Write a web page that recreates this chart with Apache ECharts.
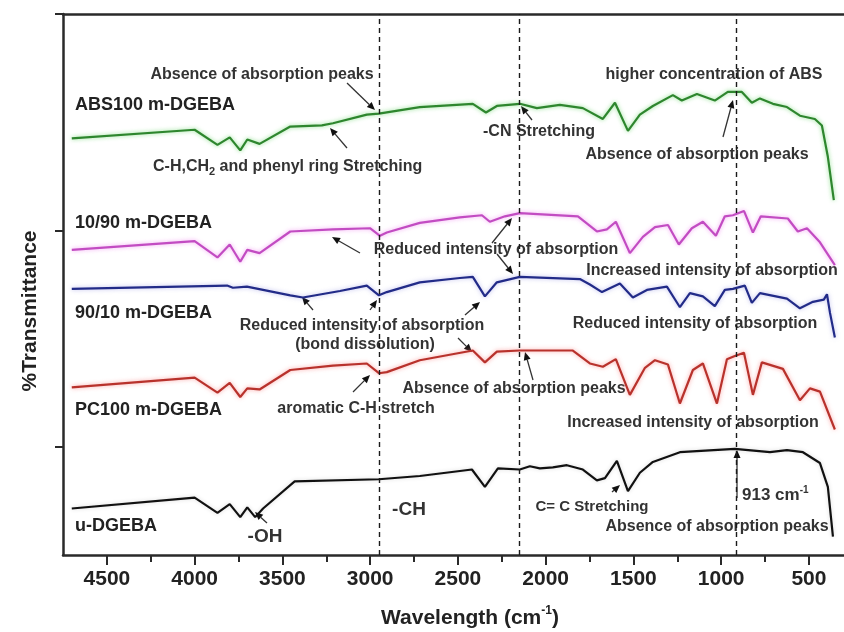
<!DOCTYPE html>
<html>
<head>
<meta charset="utf-8">
<script src="https://cdn.jsdelivr.net/npm/echarts@6/dist/echarts.min.js"></script>
<style>
html, body { margin: 0; padding: 0; background: #fff; }
#main { width: 844px; height: 632px; }
</style>
</head>
<body>
<div id="main"></div>
<script>
// wavenumber (cm-1) / transmittance (offset, arbitrary units)
var absW = [4700, 4000, 3870, 3800, 3740, 3700, 3630, 3455, 3275, 3212, 3019, 2950, 2717, 2415, 2340, 2278, 2147, 2050, 1919, 1788, 1674, 1605, 1531, 1463, 1389, 1275, 1224, 1138, 1036, 962, 882, 825, 779, 705, 625, 551, 466, 426, 392, 358];
var absT = [38.5, 39.3, 37.9, 38.6, 37.4, 38.4, 38.0, 39.6, 39.7, 39.9, 40.7, 40.8, 41.4, 41.7, 40.9, 41.5, 41.7, 41.3, 41.6, 41.3, 40.3, 41.8, 39.2, 40.7, 41.5, 42.5, 42.0, 42.6, 42.0, 42.8, 42.8, 41.8, 42.2, 41.7, 41.4, 40.6, 40.3, 39.7, 36.8, 32.8];

var m1090W = [4700, 4000, 3870, 3800, 3740, 3700, 3630, 3455, 3212, 3001, 2944, 2905, 2717, 2489, 2363, 2318, 2232, 2147, 1816, 1708, 1651, 1600, 1520, 1446, 1377, 1303, 1241, 1167, 1104, 1030, 979, 933, 870, 819, 774, 620, 563, 511, 437, 352];
var m1090T = [28.2, 29.0, 27.5, 28.7, 27.1, 28.2, 27.9, 29.9, 30.1, 30.2, 29.5, 29.8, 30.7, 31.2, 31.4, 30.8, 31.3, 31.6, 31.3, 29.9, 30.1, 30.8, 27.9, 29.4, 30.3, 30.5, 28.7, 30.2, 30.8, 29.5, 31.3, 31.4, 31.8, 29.8, 31.3, 31.1, 29.9, 30.2, 28.9, 26.8];

var m9010W = [4700, 3815, 3782, 3702, 3455, 3383, 3172, 3019, 2950, 2905, 2717, 2489, 2415, 2346, 2278, 2147, 1805, 1748, 1679, 1577, 1503, 1423, 1309, 1235, 1178, 1104, 1036, 979, 933, 865, 825, 779, 625, 551, 477, 415, 397, 380, 352];
var m9010T = [24.6, 24.9, 24.7, 24.8, 24.0, 23.8, 24.4, 24.9, 24.0, 24.3, 25.2, 25.6, 25.7, 23.9, 25.2, 25.7, 25.5, 25.0, 24.3, 25.1, 23.8, 24.5, 24.8, 22.9, 24.2, 23.9, 23.0, 24.5, 24.6, 24.9, 23.3, 24.2, 23.7, 22.8, 23.4, 23.6, 24.1, 22.4, 20.1];

var pcW = [4700, 4000, 3870, 3800, 3740, 3700, 3630, 3455, 3212, 3019, 2950, 2905, 2717, 2415, 2346, 2278, 2147, 1845, 1748, 1674, 1600, 1520, 1434, 1377, 1303, 1235, 1161, 1104, 1024, 967, 922, 870, 819, 768, 648, 551, 494, 437, 352];
var pcT = [15.5, 16.4, 15.0, 15.9, 14.6, 15.4, 15.3, 17.1, 17.5, 17.7, 16.8, 16.9, 18.0, 18.9, 17.8, 18.8, 18.9, 18.9, 17.7, 17.4, 18.1, 14.8, 17.3, 18.0, 17.6, 14.0, 17.1, 17.7, 14.0, 18.1, 18.4, 18.7, 14.8, 17.8, 17.2, 14.3, 15.4, 15.1, 11.6];

var uW = [4700, 4000, 3870, 3800, 3740, 3700, 3655, 3610, 3430, 2950, 2717, 2420, 2346, 2272, 2147, 2090, 2033, 1959, 1879, 1788, 1708, 1662, 1594, 1531, 1463, 1389, 1235, 922, 722, 625, 534, 437, 392, 363];
var uT = [4.3, 5.3, 3.9, 4.7, 3.5, 4.4, 3.5, 4.3, 6.8, 7.0, 7.3, 7.9, 6.3, 8.0, 7.9, 8.2, 8.0, 8.1, 8.3, 7.9, 6.9, 7.1, 8.7, 5.9, 7.6, 8.6, 9.5, 9.8, 9.5, 9.7, 9.5, 8.5, 6.3, 1.7];

var seriesNames = ['ABS100 m-DGEBA', '10/90 m-DGEBA', '90/10 m-DGEBA', 'PC100 m-DGEBA', 'u-DGEBA'];
var majorTicks = [500, 1000, 1500, 2000, 2500, 3000, 3500, 4000, 4500];
var minorTicks = [750, 1250, 1750, 2250, 2750, 3250, 3750, 4250];
var yTicks = [10, 30, 50];
var markWaves = [2950, 2150, 913];

var FONT = '"Liberation Sans", Arial, sans-serif';
var chart = echarts.init(document.getElementById('main'));

function pairs(w, t) {
  return w.map(function (x, i) { return [x, t[i]]; });
}

var lineColors = ['#2e862e', '#c24cc2', '#222b88', '#b8322c', '#111111'];
var haloColors = ['rgba(110,215,110,0.8)', 'rgba(240,140,240,0.8)', 'rgba(120,120,220,0.5)', 'rgba(250,120,120,0.7)', 'rgba(0,0,0,0.15)'];
var allData = [pairs(absW, absT), pairs(m1090W, m1090T), pairs(m9010W, m9010T), pairs(pcW, pcT), pairs(uW, uT)];

var series = allData.map(function (d, i) {
  var s = {
    name: seriesNames[i],
    type: 'line',
    data: d,
    showSymbol: false,
    silent: true,
    animation: false,
    lineStyle: { color: lineColors[i], width: 2.2, shadowColor: haloColors[i], shadowBlur: 4 }
  };
  if (i === 0) {
    s.markLine = {
      symbol: 'none',
      silent: true,
      animation: false,
      label: { show: false },
      lineStyle: { type: [5, 4], color: '#1a1a1a', width: 1.4 },
      data: markWaves.map(function (v) { return { xAxis: v }; })
    };
  }
  return s;
});

// annotations: [text, x, y, align, fontSize]
var notes = [
  ['Absence of absorption peaks', 262, 75, 'center', 16],
  ['{a|C-H,CH}{s|2}{a| and phenyl ring Stretching}', 153, 167, 'left', 16],
  ['-CN Stretching', 483, 132, 'left', 16],
  ['higher concentration of ABS', 714, 75, 'center', 16],
  ['Absence of absorption peaks', 697, 155, 'center', 16],
  ['Reduced intensity of absorption', 496, 250, 'center', 16],
  ['Increased intensity of absorption', 712, 271, 'center', 16],
  ['Reduced intensity of absorption', 362, 326, 'center', 16],
  ['(bond dissolution)', 365, 345, 'center', 16],
  ['Reduced intensity of absorption', 695, 324, 'center', 16],
  ['aromatic C-H stretch', 356, 409, 'center', 16],
  ['Absence of absorption peaks', 514, 389, 'center', 16],
  ['Increased intensity of absorption', 693, 423, 'center', 16],
  ['-OH', 265, 537, 'center', 19],
  ['-CH', 409, 510, 'center', 19],
  ['C= C Stretching', 592, 507, 'center', 15],
  ['{a|913 cm}{p|-1}', 742, 495, 'left', 17],
  ['Absence of absorption peaks', 717, 527, 'center', 16]
];

// arrows: [tailX, tailY, tipX, tipY]
var arrows = [
  [347, 83, 375, 110],
  [347, 148, 330, 128],
  [532, 120, 521, 106],
  [723, 137, 733, 100],
  [360, 253, 332, 237],
  [492, 243, 512, 218],
  [497, 254, 513, 274],
  [313, 310, 302, 297],
  [370, 310, 377, 300],
  [465, 315, 480, 302],
  [458, 338, 472, 352],
  [353, 392, 370, 375],
  [533, 380, 525, 352],
  [267, 523, 255, 512],
  [612, 492, 620, 485],
  [737, 498, 737, 450]
];

// curve labels at the left: [text, y]
var curveLabels = [
  [seriesNames[0], 105],
  [seriesNames[1], 223],
  [seriesNames[2], 313],
  [seriesNames[3], 410],
  [seriesNames[4], 526]
];

var graphics = [];
curveLabels.forEach(function (c) {
  graphics.push({
    type: 'text', x: 75, y: c[1], silent: true,
    style: { text: c[0], fill: '#222', fontSize: 18, fontWeight: 'bold', fontFamily: FONT, align: 'left', verticalAlign: 'middle' }
  });
});
notes.forEach(function (n) {
  graphics.push({
    type: 'text', x: n[1], y: n[2], silent: true,
    style: {
      text: n[0], fill: '#333', fontSize: n[4], fontWeight: 'bold', fontFamily: FONT,
      align: n[3], verticalAlign: 'middle',
      rich: {
        a: { fontSize: n[4], fontWeight: 'bold', fontFamily: FONT, fill: '#333', lineHeight: 20 },
        s: { fontSize: 11, fontWeight: 'bold', fontFamily: FONT, fill: '#333', lineHeight: 8, verticalAlign: 'bottom' },
        p: { fontSize: 10, fontWeight: 'bold', fontFamily: FONT, fill: '#333', lineHeight: 8, verticalAlign: 'top' }
      }
    }
  });
});
arrows.forEach(function (a) {
  var dx = a[2] - a[0], dy = a[3] - a[1];
  var len = Math.sqrt(dx * dx + dy * dy);
  var ux = dx / len, uy = dy / len;
  var hl = 8, hw = 3.5;
  var bx = a[2] - ux * hl, by = a[3] - uy * hl;
  graphics.push({
    type: 'line', silent: true,
    shape: { x1: a[0], y1: a[1], x2: bx, y2: by },
    style: { stroke: '#333', lineWidth: 1.3 }
  });
  graphics.push({
    type: 'polygon', silent: true,
    shape: { points: [[a[2], a[3]], [bx - uy * hw, by + ux * hw], [bx + uy * hw, by - ux * hw]] },
    style: { fill: '#111' }
  });
});
// axis titles
graphics.push({
  type: 'text', x: 470, y: 618, silent: true,
  style: {
    text: '{a|Wavelength (cm}{p|-1}{a|)}', align: 'center', verticalAlign: 'middle',
    rich: {
      a: { fontSize: 21, fontWeight: 'bold', fontFamily: FONT, fill: '#222', lineHeight: 26 },
      p: { fontSize: 12, fontWeight: 'bold', fontFamily: FONT, fill: '#222', lineHeight: 12, verticalAlign: 'top' }
    }
  }
});
graphics.push({
  type: 'text', x: 30, y: 311, rotation: Math.PI / 2, silent: true,
  style: { text: '%Transmittance', fill: '#222', fontSize: 21, fontWeight: 'bold', fontFamily: FONT, align: 'center', verticalAlign: 'middle' }
});

var axisLineStyle = { color: '#2a2a2a', width: 2.5 };

var option = {
  backgroundColor: '#ffffff',
  animation: false,
  grid: { left: 63, right: 0, top: 14, bottom: 77 },
  xAxis: [
    {
      type: 'value', position: 'bottom', min: 300, max: 4750, inverse: true,
      axisLine: { lineStyle: axisLineStyle },
      axisTick: { customValues: majorTicks, length: 10, inside: false, lineStyle: { color: '#2a2a2a', width: 2 } },
      axisLabel: {
        customValues: majorTicks, fontSize: 21, fontWeight: 'bold', fontFamily: FONT, color: '#222', margin: 14,
        formatter: function (v) { return String(v); }
      },
      splitLine: { show: false }
    },
    {
      type: 'value', position: 'top', min: 300, max: 4750, inverse: true,
      axisLine: { lineStyle: axisLineStyle },
      axisTick: { show: false },
      axisLabel: { show: false },
      splitLine: { show: false }
    },
    {
      type: 'value', position: 'bottom', min: 300, max: 4750, inverse: true,
      axisLine: { show: false },
      axisTick: { customValues: minorTicks, length: 7, inside: false, lineStyle: { color: '#2a2a2a', width: 2 } },
      axisLabel: { show: false },
      splitLine: { show: false }
    }
  ],
  yAxis: {
    type: 'value', min: 0, max: 50,
    axisLine: { show: true, lineStyle: axisLineStyle },
    axisTick: { show: true, customValues: yTicks, length: 8, inside: false, lineStyle: { color: '#2a2a2a', width: 2 } },
    axisLabel: { show: false },
    splitLine: { show: false }
  },
  series: series,
  graphic: graphics
};
chart.setOption(option);
</script>
</body>
</html>
